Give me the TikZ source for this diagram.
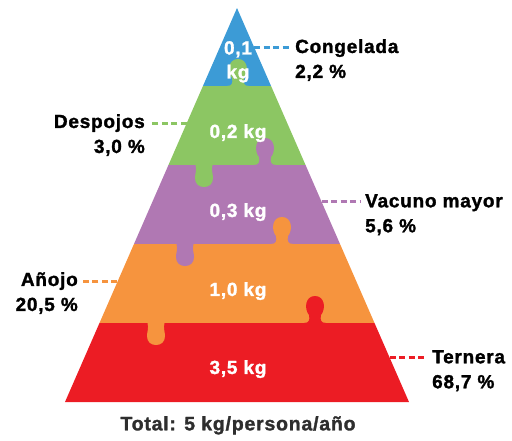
\documentclass[tikz,border=0pt]{standalone}
\usepackage{fontspec}
\setmainfont{Liberation Sans}[LetterSpace=4,BoldFeatures={FakeBold=1.5}]
\usetikzlibrary{calc}

\definecolor{pyrblue}{HTML}{3C9BD6}
\definecolor{pyrgreen}{HTML}{8CC663}
\definecolor{pyrpurple}{HTML}{B078B3}
\definecolor{pyrorange}{HTML}{F6943E}
\definecolor{pyrred}{HTML}{EC1C24}
\definecolor{totalgray}{HTML}{2E2E2E}

\newcommand\tabup[3]{\fill[#3,shift={(#1,#2)}] (-11,1) -- (-11,0) .. controls (-6,0) and (-5,-3) .. (-6,-8)
  .. controls (-11,-14) and (-10,-27) .. (0,-27) .. controls (10,-27) and (11,-14) .. (6,-8)
  .. controls (5,-3) and (6,0) .. (11,0) -- (11,1) -- cycle;}
\newcommand\tabdown[3]{\fill[#3,shift={(#1,#2)}] (-8.5,-1) -- (-8.5,0) .. controls (-7,5) and (-9,9) .. (-9,13)
  .. controls (-9,19) and (-5,22) .. (0,22) .. controls (5,22) and (9,19) .. (9,13)
  .. controls (9,9) and (7,5) .. (8.5,0) -- (8.5,-1) -- cycle;}

\begin{document}
\begin{tikzpicture}[x=1pt,y=-1pt,
  lbl/.style={inner sep=0pt,font=\bfseries\fontsize{19}{25}\selectfont},
  kg/.style={inner sep=0pt,anchor=north,text=white,font=\bfseries\fontsize{19}{24}\selectfont},
  leader/.style={line width=3pt,dash pattern=on 6pt off 3.5pt,shorten >=5pt}]
  \useasboundingbox (0,0) rectangle (512,440);
  \coordinate (apex) at (237,8);
  \coordinate (bl) at (65,402);
  \coordinate (br) at (409,402);
  \begin{scope}
    \clip (apex) -- (bl) -- (br) -- cycle;
    \fill[pyrblue] (0,0) rectangle (512,86);
    \fill[pyrgreen] (0,86) rectangle (512,165);
    \fill[pyrpurple] (0,165) rectangle (512,244);
    \fill[pyrorange] (0,244) rectangle (512,323);
    \fill[pyrred] (0,323) rectangle (512,403);
    \tabup{238}{86}{pyrgreen}
    \tabup{265}{165}{pyrpurple}
    \tabdown{204}{165}{pyrgreen}
    \tabup{282}{244}{pyrorange}
    \tabdown{185}{244}{pyrpurple}
    \tabup{315}{323}{pyrred}
    \tabdown{156}{323}{pyrorange}
  \end{scope}

  \node[kg,align=center] (k1) at (238,41) {0,1\\kg};
  \node[kg] (k2) at (238,124) {0,2 kg};
  \node[kg] (k3) at (238,203) {0,3 kg};
  \node[kg] (k4) at (238,282) {1,0 kg};
  \node[kg] (k5) at (238,360) {3,5 kg};

  \node[lbl,anchor=north west,align=left] (congelada) at (295,39) {Congelada\\2,2 \%};
  \node[lbl,anchor=north east,align=right] (despojos) at (145,114) {Despojos\\3,0 \%};
  \node[lbl,anchor=north west,align=left] (vacuno) at (365,194) {Vacuno mayor\\5,6 \%};
  \node[lbl,anchor=north east,align=right] (anojo) at (78,272) {Añojo\\20,5 \%};
  \node[lbl,anchor=north west,align=left] (ternera) at (432,350) {Ternera\\68,7 \%};

  \coordinate (e1) at ($(apex)!0.099!(br)$);
  \coordinate (e2) at ($(apex)!0.292!(bl)$);
  \coordinate (e3) at ($(apex)!0.492!(br)$);
  \coordinate (e4) at ($(apex)!0.695!(bl)$);
  \coordinate (e5) at ($(apex)!0.888!(br)$);
  \draw[leader,pyrblue] (e1) -- (e1 -| congelada.west);
  \draw[leader,pyrgreen] (e2) -- (e2 -| despojos.east);
  \draw[leader,pyrpurple] (e3) -- (e3 -| vacuno.west);
  \draw[leader,pyrorange] (e4) -- (e4 -| anojo.east);
  \draw[leader,pyrred] (e5) -- (e5 -| ternera.west);

  \node[lbl,anchor=north,text=totalgray,font=\bfseries\fontsize{19.5}{25}\selectfont] (total) at (238,416) {Total: 5 kg/persona/año};
\end{tikzpicture}
\end{document}
